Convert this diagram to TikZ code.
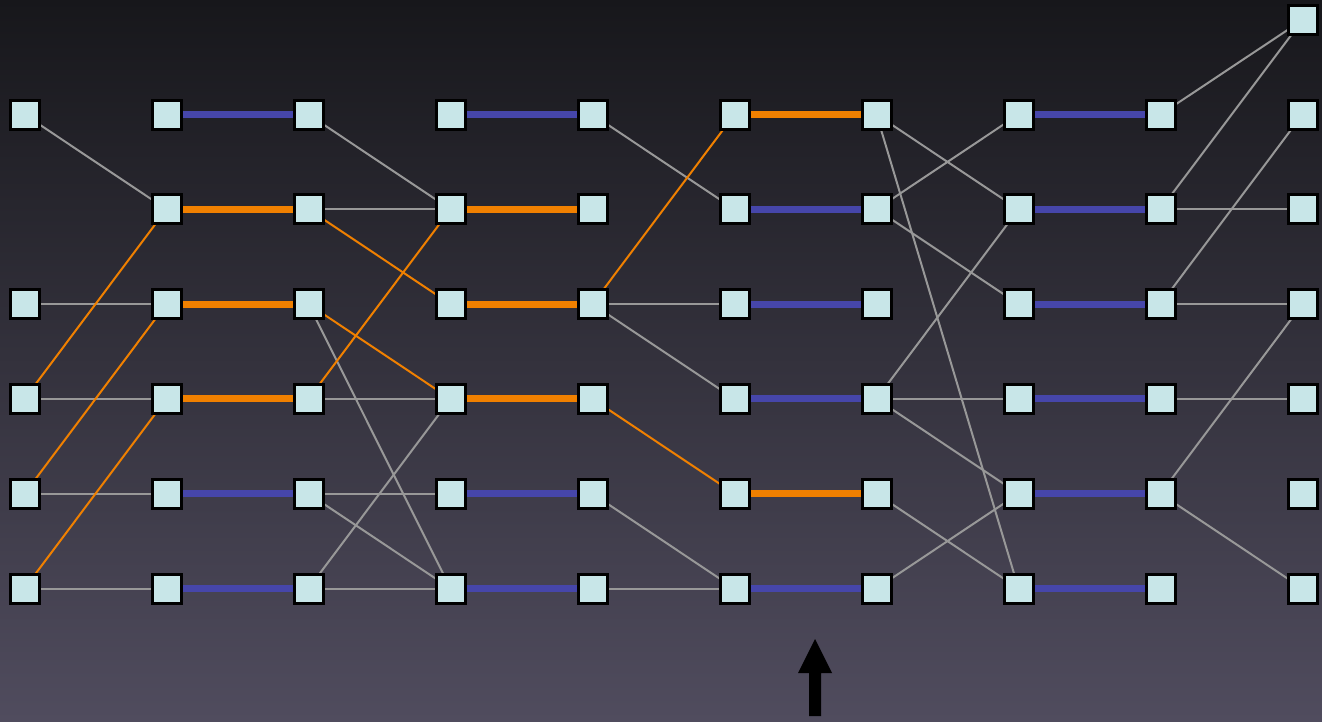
\documentclass[tikz,border=0pt]{standalone}
\usetikzlibrary{backgrounds}
\definecolor{bgtop}{RGB}{23,23,27}
\definecolor{bgmid}{RGB}{46,45,56}
\definecolor{bgbot}{RGB}{80,76,94}
\definecolor{cellfill}{RGB}{200,230,232}
\definecolor{linkblue}{RGB}{70,70,170}
\definecolor{linkorange}{RGB}{240,128,0}
\definecolor{linkgrey}{RGB}{152,152,152}
\tikzset{
  cell/.style={rectangle, draw=black, line width=3pt, fill=cellfill,
    minimum size=29pt, inner sep=0pt},
  pairblue/.style={draw=linkblue, line width=7pt},
  pairorange/.style={draw=linkorange, line width=7pt},
  wiregrey/.style={draw=linkgrey, line width=2pt},
  wireorange/.style={draw=linkorange, line width=2pt},
}
\begin{document}
\begin{tikzpicture}[x=1pt,y=-1pt]
\useasboundingbox (0,0) rectangle (1322,721);
\begin{pgfonlayer}{background}
  \shade[top color=bgtop, middle color=bgmid, bottom color=bgbot]
    (0,0) rectangle (1322,721);
\end{pgfonlayer}

% cells: column c at x = 24.5 + 142 c, row r at y = 114.5 + 94.8 (r-1)
\foreach \r in {1,3,4,5,6}
  \node[cell] (c0-\r) at (24.5,{114.5+94.8*(\r-1)}) {};
\foreach \c in {1,...,9}
  \foreach \r in {1,...,6}
    \node[cell] (c\c-\r) at ({24.5+142*\c},{114.5+94.8*(\r-1)}) {};
\node[cell] (c9-0) at (1302.5,20) {};

\begin{pgfonlayer}{background}
  % thin grey wires
  \foreach \a/\b in {c0-1/c1-2, c0-3/c1-3, c0-4/c1-4, c0-5/c1-5, c0-6/c1-6,
                     c2-1/c3-2, c2-2/c3-2, c2-3/c3-6, c2-4/c3-4, c2-5/c3-5,
                     c2-5/c3-6, c2-6/c3-4, c2-6/c3-6,
                     c4-1/c5-2, c4-3/c5-3, c4-3/c5-4, c4-5/c5-6, c4-6/c5-6,
                     c6-1/c7-2, c6-1/c7-6, c6-2/c7-1, c6-2/c7-3, c6-4/c7-2,
                     c6-4/c7-4, c6-4/c7-5, c6-5/c7-6, c6-6/c7-5,
                     c8-1/c9-0, c8-2/c9-0, c8-2/c9-2, c8-3/c9-1, c8-3/c9-3,
                     c8-4/c9-4, c8-5/c9-3, c8-5/c9-6}
    \draw[wiregrey] (\a.center) -- (\b.center);
  % thin orange wires
  \foreach \a/\b in {c0-4/c1-2, c0-5/c1-3, c0-6/c1-4,
                     c2-2/c3-3, c2-3/c3-4, c2-4/c3-2,
                     c4-3/c5-1, c4-4/c5-5}
    \draw[wireorange] (\a.center) -- (\b.center);
  % thick pair links
  \foreach \p/\q in {1/2, 3/4}{
    \draw[pairblue]   (c\p-1.center) -- (c\q-1.center);
    \draw[pairorange] (c\p-2.center) -- (c\q-2.center);
    \draw[pairorange] (c\p-3.center) -- (c\q-3.center);
    \draw[pairorange] (c\p-4.center) -- (c\q-4.center);
    \draw[pairblue]   (c\p-5.center) -- (c\q-5.center);
    \draw[pairblue]   (c\p-6.center) -- (c\q-6.center);
  }
  \draw[pairorange] (c5-1.center) -- (c6-1.center);
  \draw[pairblue]   (c5-2.center) -- (c6-2.center);
  \draw[pairblue]   (c5-3.center) -- (c6-3.center);
  \draw[pairblue]   (c5-4.center) -- (c6-4.center);
  \draw[pairorange] (c5-5.center) -- (c6-5.center);
  \draw[pairblue]   (c5-6.center) -- (c6-6.center);
  \foreach \r in {1,...,6}
    \draw[pairblue] (c7-\r.center) -- (c8-\r.center);
\end{pgfonlayer}

% upward pointer below the middle
\fill[black] (809,716) -- (809,673) -- (798,673) -- (815,639)
  -- (832,673) -- (821,673) -- (821,716) -- cycle;
\end{tikzpicture}
\end{document}
